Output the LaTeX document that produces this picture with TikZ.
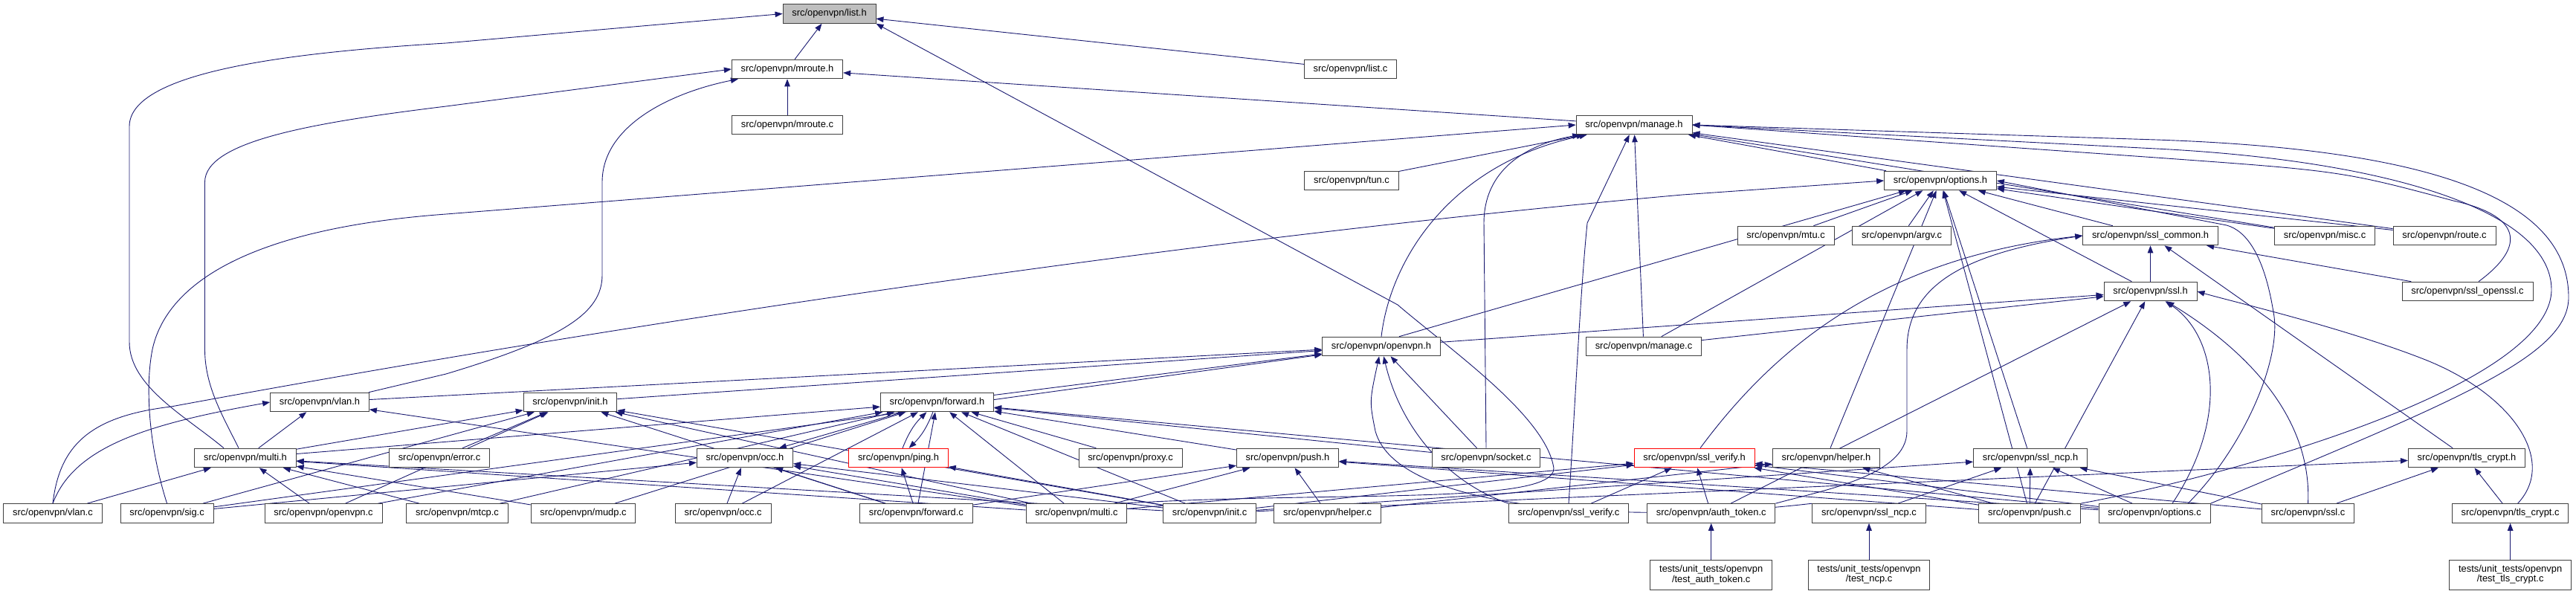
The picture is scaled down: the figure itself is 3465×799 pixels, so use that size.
\documentclass[tikz,border=0pt]{standalone}
\usepackage{fontspec}
\setmainfont{Liberation Sans}
\usepackage{xcolor}
\definecolor{edgeblue}{RGB}{25,25,112}
\definecolor{boxline}{RGB}{64,64,64}
\definecolor{curfill}{RGB}{191,191,191}
\usepackage{tikz}
\usetikzlibrary{arrows.meta, backgrounds}
\newcommand{\fnt}{\fontsize{12.9}{13.3}\selectfont}

\begin{document}
\begin{tikzpicture}[x=1pt, y=-1pt,
  filebox/.style={rectangle, draw=boxline, fill=white, line width=0.9pt, inner xsep=12.3pt,
               inner ysep=0pt, minimum height=25.7pt, font=\fnt},
  curbox/.style={filebox, fill=curfill},
  trunbox/.style={filebox, draw=red},
  testbox/.style={filebox, minimum height=40pt, align=center},
  inc/.style={-{Triangle[length=10pt, width=7.5pt]}, line width=0.9pt, color=edgeblue}
]
\useasboundingbox (0,0) rectangle (3465,799);
\node[curbox]  (lsth)    at (1115.5,18.5) {src/openvpn/list.h};
\node[filebox] (mrth)    at (1059,93)     {src/openvpn/mroute.h};
\node[filebox] (lstc)    at (1816.5,93)   {src/openvpn/list.c};
\node[filebox] (mrtc)    at (1059,168)    {src/openvpn/mroute.c};
\node[filebox] (mngh)    at (2198,168)    {src/openvpn/manage.h};
\node[filebox] (tunc)    at (1818,243)    {src/openvpn/tun.c};
\node[filebox] (opth)    at (2610,243)    {src/openvpn/options.h};
\node[filebox] (mtuc)    at (2402,317)    {src/openvpn/mtu.c};
\node[filebox] (argc)    at (2558,317)    {src/openvpn/argv.c};
\node[filebox] (sslcmh)  at (2892.5,317)  {src/openvpn/ssl\_common.h};
\node[filebox] (miscc)   at (3127,317)    {src/openvpn/misc.c};
\node[filebox] (routec)  at (3288,317)    {src/openvpn/route.c};
\node[filebox] (sslh)    at (2892.5,392)  {src/openvpn/ssl.h};
\node[filebox] (sslossl) at (3319,392)    {src/openvpn/ssl\_openssl.c};
\node[filebox] (ovpnh)   at (1858,466)    {src/openvpn/openvpn.h};
\node[filebox] (mngc)    at (2211,466)    {src/openvpn/manage.c};
\node[filebox] (vlanh)   at (430,541)     {src/openvpn/vlan.h};
\node[filebox] (inith)   at (767,541)     {src/openvpn/init.h};
\node[filebox] (fwdh)    at (1260.5,541)  {src/openvpn/forward.h};
\node[filebox] (multih)  at (330,616)     {src/openvpn/multi.h};
\node[filebox] (errc)    at (591,616)     {src/openvpn/error.c};
\node[filebox] (occh)    at (1002,616)    {src/openvpn/occ.h};
\node[trunbox] (pingh)   at (1208.5,616)  {src/openvpn/ping.h};
\node[filebox] (proxc)   at (1520.5,616)  {src/openvpn/proxy.c};
\node[filebox] (pushh)   at (1732,616)    {src/openvpn/push.h};
\node[filebox] (sockc)   at (1999,616)    {src/openvpn/socket.c};
\node[trunbox] (svfh)    at (2279,616)    {src/openvpn/ssl\_verify.h};
\node[filebox] (helph)   at (2456.5,616)  {src/openvpn/helper.h};
\node[filebox] (ncph)    at (2731,616)    {src/openvpn/ssl\_ncp.h};
\node[filebox] (tlsh)    at (3318,616)    {src/openvpn/tls\_crypt.h};
\node[filebox] (vlanc)   at (71,690.5)    {src/openvpn/vlan.c};
\node[filebox] (sigc)    at (224.6,690.5) {src/openvpn/sig.c};
\node[filebox] (ovpnc)   at (435,690.5)   {src/openvpn/openvpn.c};
\node[filebox] (mtcpc)   at (615,690.5)   {src/openvpn/mtcp.c};
\node[filebox] (mudpc)   at (784.5,690.5) {src/openvpn/mudp.c};
\node[filebox] (occc)    at (972.7,690.5) {src/openvpn/occ.c};
\node[filebox] (fwdc)    at (1232.4,690.5){src/openvpn/forward.c};
\node[filebox] (multic)  at (1448,690.5)  {src/openvpn/multi.c};
\node[filebox] (initc)   at (1627,690.5)  {src/openvpn/init.c};
\node[filebox] (helpc)   at (1785.6,690.5){src/openvpn/helper.c};
\node[filebox] (svfc)    at (2110,690.5)  {src/openvpn/ssl\_verify.c};
\node[filebox] (authc)   at (2301.7,690.5){src/openvpn/auth\_token.c};
\node[filebox] (ncpc)    at (2514,690.5)  {src/openvpn/ssl\_ncp.c};
\node[filebox] (pushc)   at (2730,690.5)  {src/openvpn/push.c};
\node[filebox] (optc)    at (2898,690.5)  {src/openvpn/options.c};
\node[filebox] (sslc)    at (3104.5,690.5){src/openvpn/ssl.c};
\node[filebox] (tlsc)    at (3376.6,690.5){src/openvpn/tls\_crypt.c};
\node[testbox] (tauth)   at (2301.7,773)  {tests/unit\_tests/openvpn\\/test\_auth\_token.c};
\node[testbox] (tncp)    at (2514,773)    {tests/unit\_tests/openvpn\\/test\_ncp.c};
\node[testbox] (ttls)    at (3376.6,773)  {tests/unit\_tests/openvpn\\/test\_tls\_crypt.c};
\begin{scope}[on background layer]
\draw[inc] (mrth) -- (lsth);
\draw[inc] (lstc) -- (lsth);
\draw[inc] ([xshift=-29pt]multih.north) .. controls (250,560) and (174,520) .. (174,460) -- (174,170)
  .. controls (174,95) and (400,70) .. (600,58) -- (lsth.west);
\draw[inc] ([xshift=60pt]multic.north) .. controls (1800,660) and (2090,680) .. (2090,630)
  .. controls (2080,560) and (1950,470) .. (1880,410) -- (lsth.south east);
\draw[inc] (mrtc) -- (mrth);
\draw[inc] (mngh) -- (mrth);
\draw[inc] ([xshift=-9pt]multih.north) .. controls (300,560) and (275.5,520) .. (275.5,470) -- (275.5,245)
  .. controls (275.5,190) and (420,165) .. (600,143) -- (mrth.west);
\draw[inc] ([xshift=66pt]vlanh.north) -- (600,503) .. controls (760,455) and (810,420) .. (810,370)
  -- (810,245) .. controls (810,170) and (900,125) .. (mrth);
\draw[inc] (opth) -- (mngh);
\draw[inc] (tunc) -- (mngh);
\draw[inc] (mngc) -- (mngh);
\draw[inc] (svfc.north) .. controls (2118,560) and (2125,400) .. (2135,300) -- (mngh);
\draw[inc] (miscc) -- (mngh);
\draw[inc] (routec) -- (mngh);
\draw[inc] (sigc.north) .. controls (200,600) and (195,520) .. (205,470)
  .. controls (220,400) and (300,310) .. (600,288) -- (mngh.west);
\draw[inc] (ovpnh.north) .. controls (1870,350) and (1950,220) .. (mngh);
\draw[inc] (sockc.north) -- (1996,300) .. controls (1996,230) and (2050,195) .. (mngh);
\draw[inc] ([xshift=15pt]sslossl.north) .. controls (3400,330) and (3390,290) .. (3300,270)
  .. controls (3150,230) .. (2900,212) -- (mngh.east);
\draw[inc] (pushc.north east) .. controls (3000,640) and (3430,520) .. (3432,390)
  .. controls (3432,280) and (3200,215) .. (2900,200) -- (mngh.east);
\draw[inc] (optc.north east) .. controls (3300,540) and (3455,480) .. (3455,400)
  .. controls (3455,260) and (3250,200) .. (2900,188) -- (mngh.east);
\draw[inc] (mtuc) -- (opth);
\draw[inc] (argc) -- (opth);
\draw[inc] (sslcmh) -- (opth);
\draw[inc] (sslh) -- (opth);
\draw[inc] (miscc) -- (opth);
\draw[inc] (routec) -- (opth);
\draw[inc] ([xshift=24pt]ovpnh.north) -- (opth);
\draw[inc] (mngc) -- (opth);
\draw[inc] (helph) -- (opth);
\draw[inc] (ncph) -- (opth);
\draw[inc] (pushc) -- (opth);
\draw[inc] (vlanc.north) .. controls (80,600) and (120,560) .. (230,547)
  .. controls (700,460) and (1500,330) .. (2263,262) -- (opth.west);
\draw[inc] ([xshift=45pt]optc.north) .. controls (3020,600) and (3070,480) .. (3058,420)
  .. controls (3045,340) and (3020,310) .. (2995,303) -- (opth.east);
\draw[inc] (sslossl) -- (sslcmh);
\draw[inc] (sslh) -- (sslcmh);
\draw[inc] (tlsh) -- (sslcmh);
\draw[inc] ([xshift=8pt]svfh.north) .. controls (2400,450) and (2550,345) .. (sslcmh.west);
\draw[inc] (authc.north east) .. controls (2450,660) and (2565,640) .. (2565,580) -- (2565,470)
  .. controls (2565,380) and (2650,340) .. (sslcmh.west);
\draw[inc] (ovpnh) -- (sslh);
\draw[inc] (mngc) -- (sslh);
\draw[inc] (authc) -- (sslh);
\draw[inc] (pushc) -- (sslh);
\draw[inc] ([xshift=24pt]optc.north) .. controls (3000,560) and (2980,450) .. (sslh);
\draw[inc] (sslc.north) .. controls (3110,560) and (3020,470) .. (sslh);
\draw[inc] ([xshift=10pt]tlsc.north) .. controls (3440,620) and (3380,530) .. (3260,483)
  .. controls (3150,440) and (3000,405) .. (sslh.east);
\draw[inc] (fwdh) -- (ovpnh);
\draw[inc] (inith) -- (ovpnh);
\draw[inc] (vlanh) -- (ovpnh);
\draw[inc] (sigc) -- (ovpnh);
\draw[inc] (sockc) -- (ovpnh);
\draw[inc] (svfc.north west) .. controls (1950,650) and (1885,580) .. (ovpnh);
\draw[inc] (ncpc.north west) .. controls (2200,705) and (1880,690) .. (1850,580) .. controls (1842,540) .. (ovpnh);
\draw[inc] (multih) -- (fwdh);
\draw[inc] (pingh) to[bend left=12] (fwdh);
\draw[inc] (fwdc) -- (fwdh);
\draw[inc] (multic) -- (fwdh);
\draw[inc] (initc) -- (fwdh);
\draw[inc] (proxc) -- (fwdh);
\draw[inc] (pushh) -- (fwdh);
\draw[inc] (sockc) -- (fwdh);
\draw[inc] (optc) -- (fwdh);
\draw[inc] (ovpnc) -- (fwdh);
\draw[inc] (mtcpc) -- (fwdh);
\draw[inc] (mudpc) -- (fwdh);
\draw[inc] (occc) -- (fwdh);
\draw[inc] (fwdh) -- (occh);
\draw[inc] (occc) -- (occh);
\draw[inc] (sigc) -- (occh);
\draw[inc] (fwdc) -- (occh);
\draw[inc] (initc) -- (occh);
\draw[inc] (multic) -- (occh);
\draw[inc] (fwdh) to[bend left=12] (pingh);
\draw[inc] (fwdc) -- (pingh);
\draw[inc] (initc) -- (pingh);
\draw[inc] (errc) -- (inith);
\draw[inc] (sigc) -- (inith);
\draw[inc] (multih) -- (inith);
\draw[inc] (ovpnc) -- (inith);
\draw[inc] (initc) -- (inith);
\draw[inc] (multic) -- (inith);
\draw[inc] (fwdc) -- (inith);
\draw[inc] (multih) -- (vlanh);
\draw[inc] (vlanc.north) .. controls (100,600) and (200,570) .. (vlanh.west);
\draw[inc] (multic) -- (vlanh);
\draw[inc] (vlanc) -- (multih);
\draw[inc] (ovpnc) -- (multih);
\draw[inc] (mtcpc) -- (multih);
\draw[inc] (mudpc) -- (multih);
\draw[inc] (multic) -- (multih);
\draw[inc] (initc) -- (multih);
\draw[inc] (fwdc) -- (pushh);
\draw[inc] (multic) -- (pushh);
\draw[inc] (helpc) -- (pushh);
\draw[inc] (pushc) -- (pushh);
\draw[inc] (optc) -- (pushh);
\draw[inc] (svfc) -- (svfh);
\draw[inc] (authc) -- (svfh);
\draw[inc] (initc) -- (svfh);
\draw[inc] (multic) -- (svfh);
\draw[inc] (sslc) -- (svfh);
\draw[inc] (pushc) -- (svfh);
\draw[inc] (optc) -- (svfh);
\draw[inc] (helpc) -- (helph);
\draw[inc] (pushc) -- (helph);
\draw[inc] (ncpc) -- (ncph);
\draw[inc] (pushc) -- (ncph);
\draw[inc] (optc) -- (ncph);
\draw[inc] (sslc) -- (ncph);
\draw[inc] (initc) -- (ncph);
\draw[inc] (tlsc) -- (tlsh);
\draw[inc] (sslc) -- (tlsh);
\draw[inc] (initc) -- (tlsh);
\draw[inc] (tauth) -- (authc);
\draw[inc] (tncp) -- (ncpc);
\draw[inc] (ttls) -- (tlsc);
\end{scope}
\end{tikzpicture}
\end{document}
